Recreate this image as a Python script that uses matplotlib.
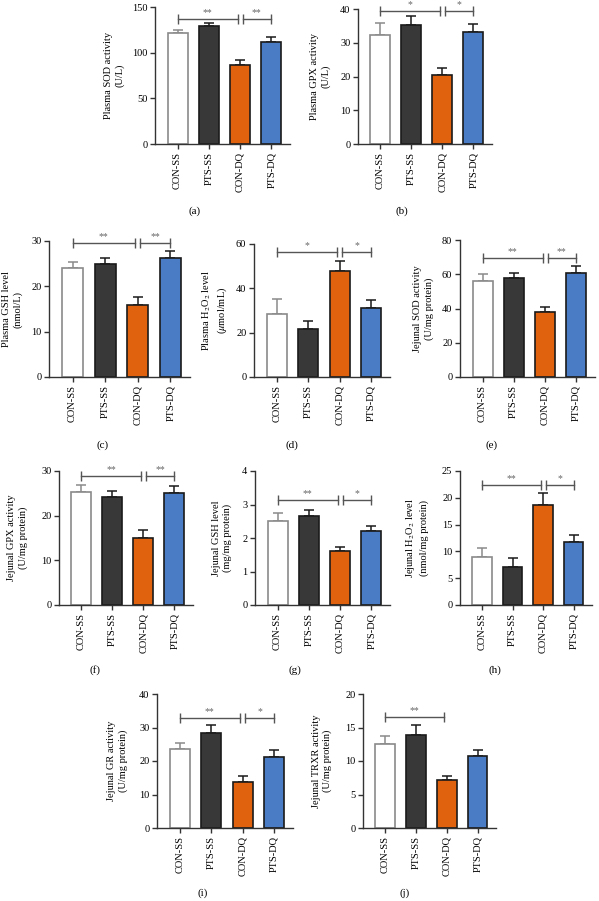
import numpy as np
import matplotlib
matplotlib.use("Agg")
import matplotlib.pyplot as plt

plt.rcParams.update({
    "font.family": "serif",
    "font.serif": ["Liberation Serif", "DejaVu Serif"],
    "mathtext.fontset": "stix",
    "font.size": 7.5,
})

groups = ["CON-SS", "PTS-SS", "CON-DQ", "PTS-DQ"]
bar_colors = ["white", "#383838", "#e0620f", "#4a7cc6"]
edge_colors = ["#8a8a8a", "#1a1a1a", "#1a1a1a", "#1a1a1a"]

# means and upper error bars
sod_plasma = [121, 129, 86, 112]
sod_plasma_err = [3.5, 3.5, 5.5, 5]
gpx_plasma = [32.3, 35.4, 20.5, 33.2]
gpx_plasma_err = [3.6, 2.6, 1.9, 2.4]
gsh_plasma = [24.1, 25.0, 15.9, 26.3]
gsh_plasma_err = [1.3, 1.2, 1.8, 1.4]
h2o2_plasma = [28.5, 21.5, 48.0, 31.0]
h2o2_plasma_err = [6.5, 3.6, 4.3, 3.6]
sod_jej = [56, 58, 38, 61]
sod_jej_err = [4.2, 3.0, 2.6, 4.0]
gpx_jej = [25.2, 24.2, 14.9, 25.0]
gpx_jej_err = [1.6, 1.4, 1.9, 1.6]
gsh_jej = [2.52, 2.67, 1.60, 2.20]
gsh_jej_err = [0.24, 0.17, 0.13, 0.15]
h2o2_jej = [9.0, 7.0, 18.7, 11.7]
h2o2_jej_err = [1.7, 1.7, 2.2, 1.4]
gr_jej = [23.7, 28.3, 13.7, 21.3]
gr_jej_err = [1.7, 2.3, 1.9, 1.9]
trxr_jej = [12.6, 13.9, 7.1, 10.8]
trxr_jej_err = [1.1, 1.4, 0.7, 0.8]

# significance brackets: (from bar, to bar, height, label)
brk_a = [(0, 2, 137, "**"), (2, 3, 137, "**")]
brk_b = [(0, 2, 39.4, "*"), (2, 3, 39.4, "*")]
brk_c = [(0, 2, 29.5, "**"), (2, 3, 29.5, "**")]
brk_d = [(0, 2, 56.5, "*"), (2, 3, 56.5, "*")]
brk_e = [(0, 2, 69.3, "**"), (2, 3, 69.3, "**")]
brk_f = [(0, 2, 28.9, "**"), (2, 3, 28.9, "**")]
brk_g = [(0, 2, 3.13, "**"), (2, 3, 3.13, "*")]
brk_h = [(0, 2, 22.4, "**"), (2, 3, 22.4, "*")]
brk_i = [(0, 2, 32.9, "**"), (2, 3, 32.9, "*")]
brk_j = [(0, 2, 16.6, "**")]

W, H = 599, 901
fig = plt.figure(figsize=(W / 100, H / 100), dpi=100)


def draw_panel(rect, means, errs, ylabel, yticks, brackets, caption, cap_xy, label_x):
    l, r, t, b = rect
    ax = fig.add_axes([l / W, 1 - b / H, (r - l) / W, (b - t) / H])
    x = np.arange(len(groups))
    ax.bar(x, means, width=0.64, color=bar_colors, edgecolor=edge_colors,
           linewidth=1.2, zorder=2)
    for xi, m, e, ec in zip(x, means, errs, edge_colors):
        ax.errorbar(xi, m, yerr=[[0], [e]], fmt="none", ecolor=ec,
                    elinewidth=1.1, capsize=3.5, capthick=1.1, zorder=1)

    ax.set_xlim(-0.72, 3.6)
    ax.set_ylim(0, yticks[-1])
    ax.set_yticks(yticks)
    ax.set_yticklabels([("%g" % v) for v in yticks])
    ax.set_xticks(x)
    ax.set_xticklabels(groups, rotation=90)
    for s in ("top", "right"):
        ax.spines[s].set_visible(False)
    for s in ("left", "bottom"):
        ax.spines[s].set_linewidth(1.0)
        ax.spines[s].set_color("#333333")
    ax.tick_params(direction="out", length=3.5, width=1.0, color="#333333",
                   labelsize=7.5, pad=2)

    ax.text(label_x, 0.5, ylabel, transform=ax.transAxes, rotation=90,
            ha="center", va="center", fontsize=7.5, multialignment="center",
            linespacing=1.25)

    for i, j, y, lab in brackets:
        x0 = i + (0.08 if i == 2 else 0)
        x1 = j - (0.08 if j == 2 else 0)
        ax.plot([x0, x1], [y, y], color="#555555", lw=1.0, marker="|",
                markersize=7, markeredgewidth=1.0, clip_on=False)
        ax.annotate(lab, xy=((x0 + x1) / 2, y), xytext=(0, 1.5),
                    textcoords="offset points", ha="center", va="bottom",
                    fontsize=7, color="#666666", annotation_clip=False)

    fig.text(cap_xy[0] / W, 1 - cap_xy[1] / H, caption, ha="center",
             va="center", fontsize=8)
    return ax


draw_panel((155, 290, 7, 144), sod_plasma, sod_plasma_err,
           "Plasma SOD activity\n(U/L)", [0, 50, 100, 150], brk_a,
           "(a)", (195, 211), -0.30)
draw_panel((358, 492, 9, 144), gpx_plasma, gpx_plasma_err,
           "Plasma GPX activity\n(U/L)", [0, 10, 20, 30, 40], brk_b,
           "(b)", (402, 211), -0.28)
draw_panel((49, 190, 241, 377), gsh_plasma, gsh_plasma_err,
           "Plasma GSH level\n(nmol/L)", [0, 10, 20, 30], brk_c,
           "(c)", (103, 445), -0.26)
draw_panel((254, 390, 244, 377), h2o2_plasma, h2o2_plasma_err,
           "Plasma H$_2$O$_2$ level\n($\\mu$mol/mL)", [0, 20, 40, 60], brk_d,
           "(d)", (292, 445), -0.29)
draw_panel((460, 595, 240, 377), sod_jej, sod_jej_err,
           "Jejunal SOD activity\n(U/mg protein)", [0, 20, 40, 60, 80], brk_e,
           "(e)", (492, 445), -0.27)
draw_panel((59, 193, 471, 605), gpx_jej, gpx_jej_err,
           "Jejunal GPX activity\n(U/mg protein)", [0, 10, 20, 30], brk_f,
           "(f)", (95, 670), -0.31)
draw_panel((255, 390, 471, 605), gsh_jej, gsh_jej_err,
           "Jejunal GSH level\n(mg/mg protein)", [0, 1, 2, 3, 4], brk_g,
           "(g)", (295, 670), -0.245)
draw_panel((460, 592, 471, 605), h2o2_jej, h2o2_jej_err,
           "Jejunal H$_2$O$_2$ level\n(nmol/mg protein)", [0, 5, 10, 15, 20, 25],
           brk_h, "(h)", (495, 670), -0.33)
draw_panel((157, 293, 694, 828), gr_jej, gr_jej_err,
           "Jejunal GR activity\n(U/mg protein)", [0, 10, 20, 30, 40], brk_i,
           "(i)", (203, 893), -0.29)
draw_panel((363, 496, 694, 828), trxr_jej, trxr_jej_err,
           "Jejunal TRXR activity\n(U/mg protein)", [0, 5, 10, 15, 20], brk_j,
           "(j)", (405, 893), -0.31)

fig.savefig("out.png", dpi=100, facecolor="white")
